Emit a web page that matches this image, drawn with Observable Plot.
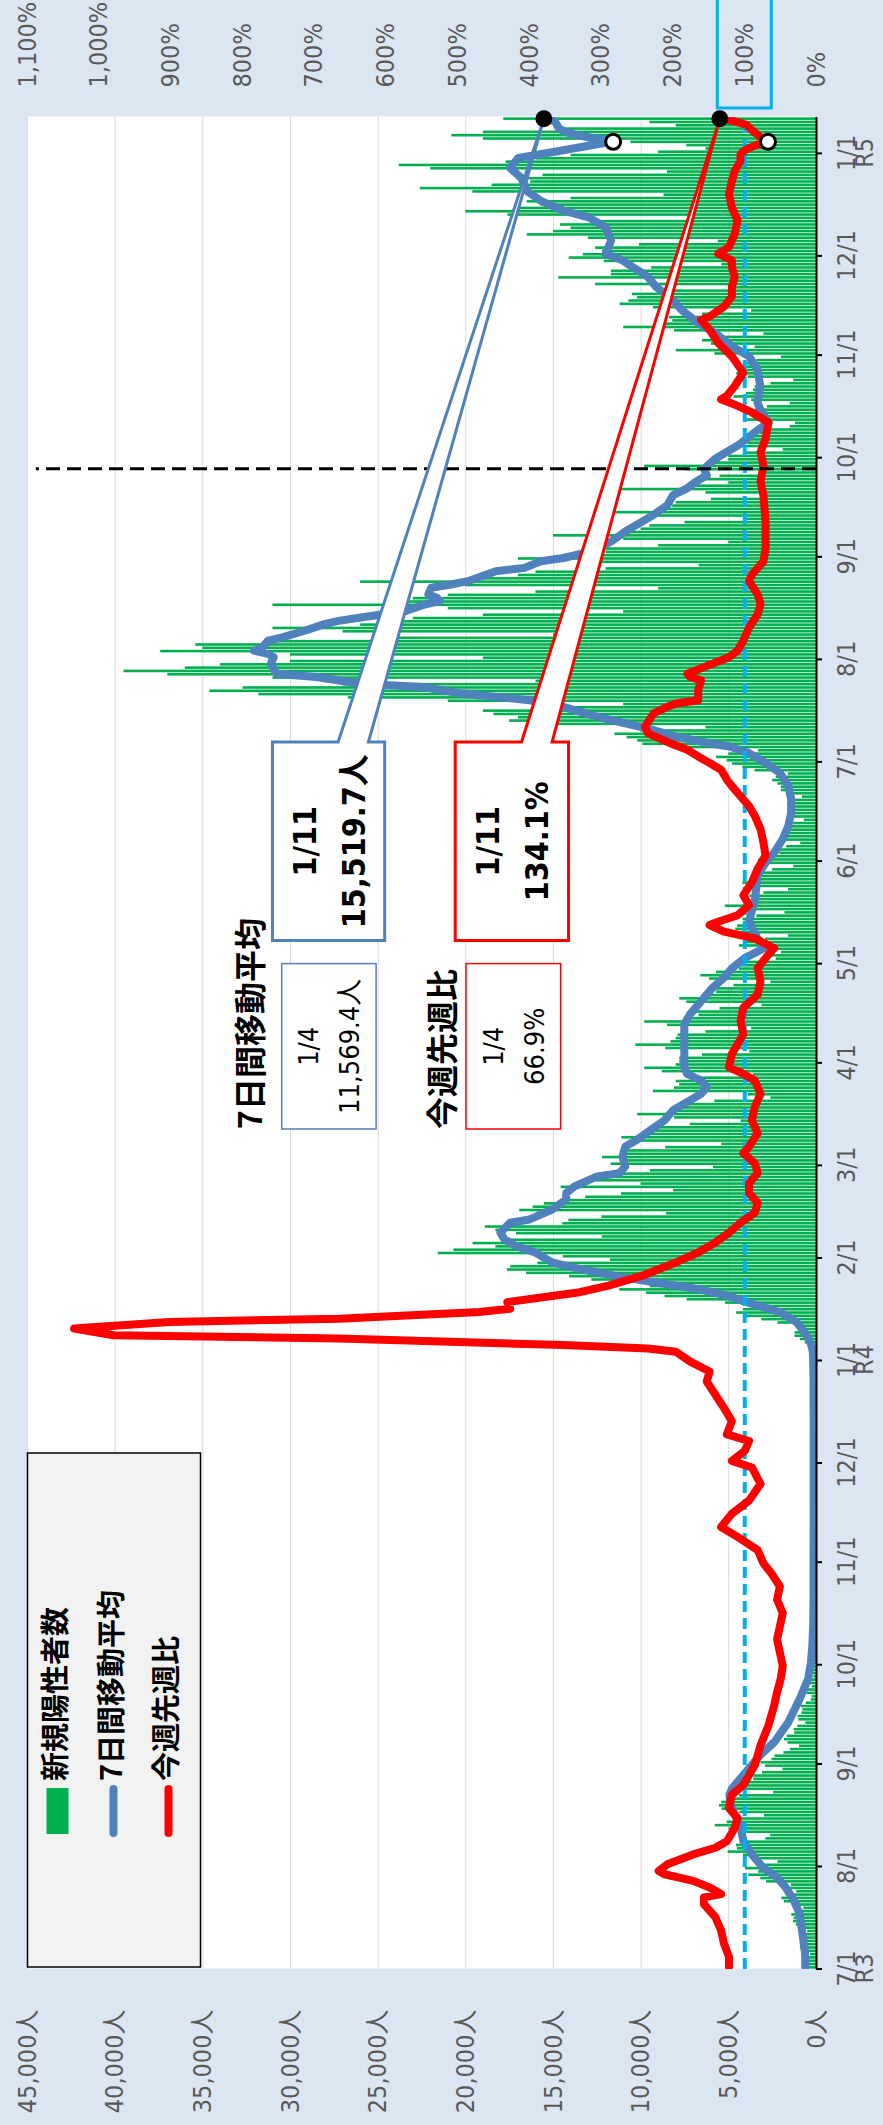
<!DOCTYPE html>
<html><head><meta charset="utf-8">
<script src="https://cdn.jsdelivr.net/npm/d3@7"></script>
<script src="https://cdn.jsdelivr.net/npm/@observablehq/plot@0.6"></script>
<style>
html,body{margin:0;padding:0;background:#ffffff;}
#wrap{position:relative;width:883px;height:2125px;overflow:hidden;}
#land{position:absolute;left:0;top:0;width:2125px;height:883px;transform-origin:0 0;transform:translate(0,2125px) rotate(-90deg);}
</style></head><body><div id="wrap"><div id="land"></div></div>
<script>
// ---------------- data ----------------
const startDate = "2021-07-01";
const endDate = "2023-01-12";
// daily new positive cases, one value per day from 2021-07-01 (Thu) to 2023-01-11
const dailyCases = [
673,660,716,518,342,593,920,
896,822,950,614,502,830,1149,
1308,1271,1410,1008,727,1387,1832,
1979,1359,1128,1763,1429,2848,3177,
3865,3300,4058,3058,2195,3709,4166,
5042,4515,4566,4066,2884,2612,4200,
4989,5773,5094,4295,2962,4377,5386,
5534,5405,5074,4392,2447,4220,4228,
4704,3581,3581,3081,1915,2909,3168,
2539,2362,1853,1490,968,1629,1834,
1675,1242,1273,1067,611,1004,1052,
831,782,862,580,302,253,537,
531,235,382,362,154,248,267,
218,200,196,161,87,149,144,
138,82,74,60,49,77,72,
62,72,66,40,29,36,41,
36,26,32,19,17,29,36,
21,30,23,22,9,18,23,
24,26,22,16,9,19,26,
22,25,30,23,11,20,29,
23,21,26,15,7,21,9,
15,23,22,14,7,20,16,
18,10,23,17,8,18,21,
19,20,27,13,9,15,21,
27,32,32,24,15,33,36,
37,39,41,38,32,46,76,
64,78,79,84,103,151,390,
641,922,1224,1223,871,962,2198,
3124,4051,4561,4172,3719,5185,7377,
8638,9699,11227,9468,8503,12813,14086,
16538,17631,17433,15895,11751,14445,21576,
20679,18287,19586,17526,12214,17113,18287,
18891,14470,14122,12243,8544,16928,16157,
15525,14366,13163,11125,8151,14567,10006,
13041,11848,11136,9469,5878,11714,11110,
12200,11100,10800,8600,5400,10500,11100,
10000,9300,9000,7200,4300,8100,10200,
8200,7600,7400,5800,2600,3900,9300,
8100,7800,8000,6700,3600,8800,9800,
8000,7800,7800,6500,3800,8600,10300,
8300,8000,7900,6300,3700,8500,9800,
7400,6700,6900,5500,3100,7400,7800,
6300,5700,5800,4700,2600,6100,6600,
5700,4400,4500,4000,2300,3000,2000,
2500,4400,4000,2900,1600,4500,4600,
4500,4100,4200,3400,1800,4100,5200,
4100,3600,3800,3000,1600,3500,4200,
3400,3100,3100,2500,1300,2900,3300,
2500,2100,2100,1700,900,2000,2000,
1800,1600,1600,1300,700,1500,1650,
1650,1550,1650,1350,800,1700,2000,
2000,2200,2500,2300,1600,3500,4200,
4800,5100,5700,5000,3300,8200,9900,
10200,10800,11500,10000,6300,15600,17500,
17000,18400,19000,15000,11000,21000,26700,
31800,34600,32700,27000,16000,31000,37000,
39500,36000,34000,30000,19000,30000,37400,
35000,35400,31000,25000,15000,27000,31000,
26000,25000,23000,19000,11000,21000,31000,
24000,23000,21000,16000,9000,20000,26000,
19000,17000,16000,12000,6700,13000,17000,
14000,12000,12000,9000,5000,11000,15000,
11000,10000,9500,7500,4000,9000,12700,
9000,8200,8000,6000,3000,6300,11300,
7000,5000,6500,5500,2900,7400,9800,
6000,5000,5000,4000,1900,4300,3900,
4000,3500,3200,2800,1500,1200,4100,
3600,3300,3500,2800,1500,3700,4700,
4000,3600,3500,2600,1300,3900,4550,
4300,4000,4000,3400,2000,5800,8000,
3500,6000,6500,5300,3000,8100,11000,
8700,8200,8400,6500,3700,9300,11200,
10700,10200,10500,8500,5000,12600,8300,
14700,11700,11700,9400,5400,12100,14100,
13300,12200,12600,10100,5600,13000,16500,
15000,14000,14600,12400,7200,17600,20000,
17000,15700,16500,14000,8700,19600,22600,
18500,16300,17100,15600,8500,22000,23800,
17700,16000,14000,9000,6300,7400,10586,
19000,20800,19000,14500,8000,9500,17838
];
// 7-day moving average (people)
const avgPoints = [
["2021-07-01",640],["2021-07-05",650],["2021-07-11",800],["2021-07-17",960],["2021-07-21",1280],
["2021-07-25",1760],["2021-07-28",2250],["2021-07-31",3050],["2021-08-04",3690],["2021-08-08",4170],
["2021-08-12",4330],["2021-08-16",4650],["2021-08-19",4900],["2021-08-22",4970],["2021-08-24",4810],
["2021-08-28",4170],["2021-09-03",3210],["2021-09-07",2400],["2021-09-13",1600],["2021-09-20",960],
["2021-09-26",480],["2021-10-01",320],["2021-10-06",240],["2021-10-12",190],["2021-10-20",170],
["2021-11-01",165],["2021-11-20",160],["2021-12-10",160],["2021-12-25",170],["2021-12-31",190],
["2022-01-03",210],["2022-01-05",300],["2022-01-07",450],["2022-01-10",850],["2022-01-12",1150],
["2022-01-15",2100],["2022-01-18",4000],["2022-01-20",5100],["2022-01-22",6800],["2022-01-24",9300],
["2022-01-26",11549],["2022-01-28",13474],["2022-01-30",15078],["2022-02-02",16040],["2022-02-04",17163],
["2022-02-06",17804],["2022-02-08",18029],["2022-02-11",17484],["2022-02-12",16361],["2022-02-15",15078],
["2022-02-18",14276],["2022-02-20",14276],["2022-02-22",13794],["2022-02-25",12511],["2022-02-26",11228],
["2022-02-28",10907],["2022-03-03",11068],["2022-03-06",10907],["2022-03-08",10266],["2022-03-11",9464],
["2022-03-14",8662],["2022-03-17",8180],["2022-03-20",7218],["2022-03-22",6576],["2022-03-24",6256],
["2022-03-26",6576],["2022-03-28",7378],["2022-03-30",7539],["2022-04-03",7539],["2022-04-08",7539],
["2022-04-12",7539],["2022-04-15",7218],["2022-04-19",6576],["2022-04-23",5935],["2022-04-26",5293],
["2022-04-29",4812],["2022-05-02",4100],["2022-05-05",3000],["2022-05-08",3368],["2022-05-13",3850],
["2022-05-20",3500],["2022-05-25",3400],["2022-05-27",3368],["2022-05-31",2887],["2022-06-03",2406],
["2022-06-07",1925],["2022-06-11",1604],["2022-06-15",1444],["2022-06-19",1444],["2022-06-23",1604],
["2022-06-27",2085],["2022-06-30",2887],["2022-07-03",3850],["2022-07-05",4972],["2022-07-06",6095],
["2022-07-08",8020],["2022-07-10",9303],["2022-07-12",10907],["2022-07-14",12511],["2022-07-17",14436],
["2022-07-19",16361],["2022-07-21",20210],["2022-07-23",22456],["2022-07-24",25985],["2022-07-26",28551],
["2022-07-27",30797],["2022-07-30",31118],["2022-08-01",30957],["2022-08-02",31278],["2022-08-03",32080],
["2022-08-04",31599],["2022-08-06",31278],["2022-08-07",30476],["2022-08-09",29193],["2022-08-11",28070],
["2022-08-12",27268],["2022-08-13",25985],["2022-08-14",24702],["2022-08-15",23418],["2022-08-17",22296],
["2022-08-18",21494],["2022-08-19",21654],["2022-08-20",22135],["2022-08-22",21975],["2022-08-23",20852],
["2022-08-24",19890],["2022-08-27",18286],["2022-08-28",16682],["2022-08-30",15719],["2022-08-31",14436],
["2022-09-02",12832],["2022-09-05",11709],["2022-09-08",10907],["2022-09-11",9945],["2022-09-13",9303],
["2022-09-16",8501],["2022-09-19",8180],["2022-09-21",7400],["2022-09-23",6900],["2022-09-25",6256],
["2022-09-27",6416],["2022-09-30",5774],["2022-10-04",4491],["2022-10-08",3529],["2022-10-11",2727],
["2022-10-15",3208],["2022-10-17",3368],["2022-10-22",3208],["2022-10-27",3368],["2022-10-31",3850],
["2022-11-03",4812],["2022-11-07",5774],["2022-11-10",6737],["2022-11-14",7699],["2022-11-17",8180],
["2022-11-21",9143],["2022-11-24",9624],["2022-11-29",11068],["2022-12-01",12030],["2022-12-05",11710],
["2022-12-09",12030],["2022-12-12",12992],["2022-12-14",14436],["2022-12-17",15720],["2022-12-20",16520],
["2022-12-24",16842],["2022-12-27",17484],["2022-12-30",17002],["2023-01-01",14757],["2023-01-04",11569.4],
["2023-01-05",12800],["2023-01-06",13800],["2023-01-07",14400],["2023-01-08",14700],["2023-01-09",14800],
["2023-01-10",14917],["2023-01-11",15519.7]
];
// week-over-week ratio (%)
const ratioPoints = [
["2021-07-01",122],["2021-07-04",122],["2021-07-08",129],["2021-07-12",133],["2021-07-16",141],
["2021-07-20",157],["2021-07-22",157],["2021-07-23",133],["2021-07-25",149],["2021-07-27",172],
["2021-07-29",212],["2021-07-30",220],["2021-08-01",208],["2021-08-04",172],["2021-08-06",141],
["2021-08-08",125],["2021-08-12",114],["2021-08-15",110],["2021-08-18",122],["2021-08-22",118],
["2021-08-25",102],["2021-08-31",86],["2021-09-06",78],["2021-09-12",67],["2021-09-18",59],
["2021-09-22",55],["2021-09-26",50],["2021-09-30",47],["2021-10-04",51],["2021-10-08",55],
["2021-10-12",51],["2021-10-16",47],["2021-10-20",55],["2021-10-24",51],["2021-10-28",63],
["2021-10-31",74],["2021-11-04",82],["2021-11-08",110],["2021-11-11",133],["2021-11-15",118],
["2021-11-19",94],["2021-11-24",78],["2021-11-29",90],["2021-12-01",118],["2021-12-04",100],
["2021-12-07",94],["2021-12-09",125],["2021-12-13",118],["2021-12-17",129],["2021-12-21",141],
["2021-12-25",153],["2021-12-28",149],["2021-12-31",176],["2022-01-03",196],["2022-01-04",235],
["2022-01-05",353],["2022-01-07",666],["2022-01-08",980],["2022-01-10",1035],["2022-01-12",902],
["2022-01-13",666],["2022-01-15",470],["2022-01-16",427],["2022-01-18",431],["2022-01-21",330],
["2022-01-23",290],["2022-01-26",243],["2022-01-30",196],["2022-02-02",165],["2022-02-05",141],
["2022-02-08",122],["2022-02-11",106],["2022-02-14",86],["2022-02-17",82],["2022-02-20",94],
["2022-02-23",94],["2022-02-26",82],["2022-03-01",86],["2022-03-04",102],["2022-03-06",94],
["2022-03-10",82],["2022-03-14",90],["2022-03-18",86],["2022-03-22",78],["2022-03-26",86],
["2022-03-28",102],["2022-03-30",122],["2022-04-03",118],["2022-04-06",110],["2022-04-09",102],
["2022-04-13",106],["2022-04-17",102],["2022-04-21",82],["2022-04-25",78],["2022-04-29",82],
["2022-05-02",71],["2022-05-05",59],["2022-05-08",86],["2022-05-10",129],["2022-05-12",149],
["2022-05-13",137],["2022-05-15",110],["2022-05-18",94],["2022-05-21",102],["2022-05-25",90],
["2022-05-29",82],["2022-06-02",71],["2022-06-06",74],["2022-06-10",78],["2022-06-14",86],
["2022-06-17",94],["2022-06-20",106],["2022-06-23",118],["2022-06-25",125],["2022-06-28",133],
["2022-06-30",149],["2022-07-02",165],["2022-07-04",180],["2022-07-06",204],["2022-07-09",235],
["2022-07-11",239],["2022-07-15",227],["2022-07-17",208],["2022-07-18",196],["2022-07-19",165],
["2022-07-22",165],["2022-07-25",161],["2022-07-26",176],["2022-07-27",180],["2022-07-29",157],
["2022-08-01",122],["2022-08-03",110],["2022-08-06",102],["2022-08-10",94],["2022-08-14",82],
["2022-08-17",78],["2022-08-20",82],["2022-08-24",94],["2022-08-26",90],["2022-08-30",74],
["2022-09-03",71],["2022-09-11",71],["2022-09-19",74],["2022-09-23",78],["2022-09-28",74],
["2022-10-02",78],["2022-10-06",71],["2022-10-11",67],["2022-10-14",90],["2022-10-16",110],
["2022-10-18",133],["2022-10-19",125],["2022-10-22",114],["2022-10-26",102],["2022-10-31",118],
["2022-11-04",137],["2022-11-08",149],["2022-11-11",161],["2022-11-12",149],["2022-11-15",129],
["2022-11-18",118],["2022-11-21",118],["2022-11-24",114],["2022-11-27",118],["2022-11-29",118],
["2022-12-01",137],["2022-12-03",122],["2022-12-07",114],["2022-12-11",110],["2022-12-15",118],
["2022-12-19",122],["2022-12-23",118],["2022-12-26",114],["2022-12-29",106],["2022-12-31",106],
["2023-01-01",102],["2023-01-02",94],["2023-01-03",82],["2023-01-04",66.9],["2023-01-05",77],
["2023-01-06",82],["2023-01-07",88],["2023-01-08",93],["2023-01-09",98],["2023-01-10",114],
["2023-01-11",134.1]
];
const countTicks = [0,5000,10000,15000,20000,25000,30000,35000,40000,45000];
const pctTicks = [0,100,200,300,400,500,600,700,800,900,1000,1100];
const monthTicks = ["2021-07-01","2021-08-01","2021-09-01","2021-10-01","2021-11-01","2021-12-01",
"2022-01-01","2022-02-01","2022-03-01","2022-04-01","2022-05-01","2022-06-01","2022-07-01","2022-08-01",
"2022-09-01","2022-10-01","2022-11-01","2022-12-01","2023-01-01"];
const monthTickLabels = ["7/1\nR3","8/1","9/1","10/1","11/1","12/1","1/1\nR4","2/1","3/1","4/1","5/1","6/1",
"7/1","8/1","9/1","10/1","11/1","12/1","1/1\nR5"];
const legendLabels = ["新規陽性者数","7日間移動平均","今週先週比"];
const seriesTitles = ["7日間移動平均","今週先週比"];
const latestDate = "2023-01-11", latestLabel = "1/11", latestAvg = 15519.7, latestRatio = 134.1;
const prevDate = "2023-01-04", prevLabel = "1/4", prevAvg = 11569.4, prevRatio = 66.9;
const countingChangeDate = "2022-09-27";

// ---------------- chart ----------------
const GREEN = "#00b050", BLUE = "#4f81bd", RED = "#ff0000", CYAN = "#00b0f0";
const NUMFONT = "'DejaVu Sans Condensed','DejaVu Sans','Noto Sans CJK JP',sans-serif";
const JPFONT = "'Noto Sans CJK JP',sans-serif";
const K = 45000 / 1100; // percent -> count-axis units
const DAY = 864e5;
const d0 = new Date(startDate + "T00:00:00Z");
const noon = s => new Date(s + "T12:00:00Z");
const bars = dailyCases.map((v, i) => ({a: new Date(+d0 + i * DAY), b: new Date(+d0 + (i + 1) * DAY), v}));
const avg = avgPoints.map(([s, v]) => ({x: noon(s), y: v}));
const ratio = ratioPoints.map(([s, p]) => ({x: noon(s), y: p * K}));
const ticks = monthTicks.map((s, i) => ({x: new Date(s + "T00:00:00Z"), label: monthTickLabels[i]}));
const fmtInt = d3.format(",");
const fmt1 = d3.format(",.1f");

const plot = Plot.plot({
  width: 2125, height: 883,
  marginLeft: 156, marginRight: 117, marginTop: 27, marginBottom: 67,
  x: {type: "utc", domain: [d0, new Date(endDate + "T00:00:00Z")], label: null, axis: null},
  y: {type: "linear", domain: [0, 45000], label: null},
  style: {background: "#dce6f2", fontFamily: NUMFONT, overflow: "hidden"},
  marks: [
    Plot.frame({fill: "white", stroke: "none"}),
    Plot.gridY(countTicks.slice(1), {stroke: "#d9d9d9", strokeOpacity: 1, strokeWidth: 1}),
    Plot.rectY(bars, {x1: "a", x2: "b", y: "v", fill: GREEN, insetLeft: 0.35, insetRight: 0.35}),
    Plot.line(avg, {x: "x", y: "y", stroke: BLUE, strokeWidth: 8, clip: true}),
    Plot.ruleY([100 * K], {stroke: CYAN, strokeWidth: 4, strokeDasharray: "11,6"}),
    Plot.line(ratio, {x: "x", y: "y", stroke: RED, strokeWidth: 8, clip: true}),
    Plot.ruleX([noon(countingChangeDate)], {y1: 0, y2: 44500, stroke: "black", strokeWidth: 3, strokeDasharray: "14,7"}),
    Plot.ruleY([0], {stroke: "black", strokeWidth: 2}),
    Plot.axisY(countTicks, {anchor: "left", tickSize: 0, tickPadding: 41, tickFormat: v => fmtInt(v) + "人", fontSize: 25, color: "#595959", label: null}),
    Plot.axisY(pctTicks.map(p => p * K), {anchor: "right", tickSize: 0, tickPadding: 29, tickFormat: v => fmtInt(Math.round(v / K)) + "%", fontSize: 25, color: "#595959", label: null}),
    Plot.text(ticks, {x: "x", text: "label", frameAnchor: "bottom", lineAnchor: "top", dy: 26, lineHeight: 0.72, fontSize: 25, fill: "#595959"})
  ]
});
document.getElementById("land").appendChild(plot);

// ---------------- annotations (through the plot's scales) ----------------
const sx = plot.scale("x"), sy = plot.scale("y");
const X = s => sx.apply(s instanceof Date ? s : new Date(s + "T00:00:00Z"));
const Y = v => sy.apply(v);
const svg = d3.select(plot);
const g = svg.append("g");
const xr = [X(d0), X(new Date(endDate + "T00:00:00Z"))];
const yr = [Y(0), Y(45000)];

// tick marks below the axis
ticks.forEach(t => {
  g.append("line").attr("x1", X(t.x)).attr("x2", X(t.x)).attr("y1", Y(0)).attr("y2", Y(0) + 6)
    .attr("stroke", "black").attr("stroke-width", 2);
});

// cyan box around the 100% label
{
  const yc = Y(100 * K);
  g.append("rect").attr("x", xr[1] + 9).attr("y", yc - 27).attr("width", 140).attr("height", 54)
    .attr("fill", "none").attr("stroke", CYAN).attr("stroke-width", 3);
}

function txt(x, y, s, opts) {
  const t = g.append("text").attr("x", x).attr("y", y).text(s)
    .attr("dominant-baseline", "central")
    .attr("font-family", opts.font || NUMFONT)
    .attr("font-size", opts.size).attr("font-weight", opts.weight || "normal")
    .attr("text-anchor", opts.anchor || "middle").attr("fill", opts.fill || "black");
  return t;
}
// series titles
txt(X("2022-03-12"), Y(32370), seriesTitles[0], {font: JPFONT, size: 32, weight: "bold", anchor: "start"});
txt(X("2022-03-12"), Y(524 * K), seriesTitles[1], {font: JPFONT, size: 32, weight: "bold", anchor: "start"});

// small boxes for the previous week
function smallBox(v1, v2, color, line1, line2) {
  const x1 = X("2022-03-12"), x2 = X("2022-05-01");
  const yt = Y(v2), yb = Y(v1);
  g.append("rect").attr("x", x1).attr("y", yt).attr("width", x2 - x1).attr("height", yb - yt)
    .attr("fill", "white").attr("stroke", color).attr("stroke-width", 1.5);
  const cx = (x1 + x2) / 2, cy = (yt + yb) / 2;
  txt(cx, cy - 20, line1, {size: 27});
  txt(cx, cy + 21, line2, {size: 27});
}
smallBox(25090, 30473, BLUE, prevLabel, fmt1(prevAvg) + "人");
smallBox(356 * K, 488 * K, RED, prevLabel, fmt1(prevRatio) + "%");

// callouts for the latest values
function callout(vLo, vHi, color, apexDate, apexValue, line1, line2) {
  const x1 = X("2022-05-08"), x2 = X("2022-07-07");
  const yt = Y(vHi), yb = Y(vLo), h = yb - yt;
  const w1 = yt + h * 0.585, w2 = yt + h * 0.855;
  const ax = X(noon(apexDate)), ay = Y(apexValue);
  g.append("path")
    .attr("d", `M${x1},${yt}H${x2}V${w1}L${ax},${ay}L${x2},${w2}V${yb}H${x1}Z`)
    .attr("fill", "white").attr("stroke", color).attr("stroke-width", 3).attr("stroke-linejoin", "miter");
  const cx = (x1 + x2) / 2, cy = (yt + yb) / 2;
  txt(cx, cy - 24, line1, {size: 32, weight: "bold"});
  txt(cx, cy + 25, line2, {size: 32, weight: "bold"});
}
callout(24600, 31000, BLUE, latestDate, latestAvg, latestLabel, fmt1(latestAvg) + "人");
callout(345 * K, 503 * K, RED, latestDate, latestRatio * K, latestLabel, fmt1(latestRatio) + "%");

// markers
[[latestDate, latestAvg], [latestDate, latestRatio * K]].forEach(([d, v]) => {
  g.append("circle").attr("cx", X(noon(d))).attr("cy", Y(v)).attr("r", 8.5).attr("fill", "black");
});
[[prevDate, prevAvg], [prevDate, prevRatio * K]].forEach(([d, v]) => {
  g.append("circle").attr("cx", X(noon(d))).attr("cy", Y(v)).attr("r", 7.5)
    .attr("fill", "white").attr("stroke", "black").attr("stroke-width", 3);
});

// legend
{
  const lx = xr[0] + 2, ly = yr[1] + 0.5;
  g.append("rect").attr("x", lx).attr("y", ly).attr("width", 514).attr("height", 173)
    .attr("fill", "#f2f2f2").attr("stroke", "black").attr("stroke-width", 1.5);
  const rows = [ly + 30, ly + 86, ly + 141];
  g.append("rect").attr("x", lx + 133).attr("y", rows[0] - 11).attr("width", 46).attr("height", 22).attr("fill", GREEN);
  g.append("line").attr("x1", lx + 134).attr("x2", lx + 178).attr("y1", rows[1]).attr("y2", rows[1])
    .attr("stroke", BLUE).attr("stroke-width", 8).attr("stroke-linecap", "round");
  g.append("line").attr("x1", lx + 134).attr("x2", lx + 178).attr("y1", rows[2]).attr("y2", rows[2])
    .attr("stroke", RED).attr("stroke-width", 8).attr("stroke-linecap", "round");
  legendLabels.forEach((s, i) => txt(lx + 186, rows[i] - 5, s, {font: JPFONT, size: 29, weight: "bold", anchor: "start"}));
}
</script></body></html>
